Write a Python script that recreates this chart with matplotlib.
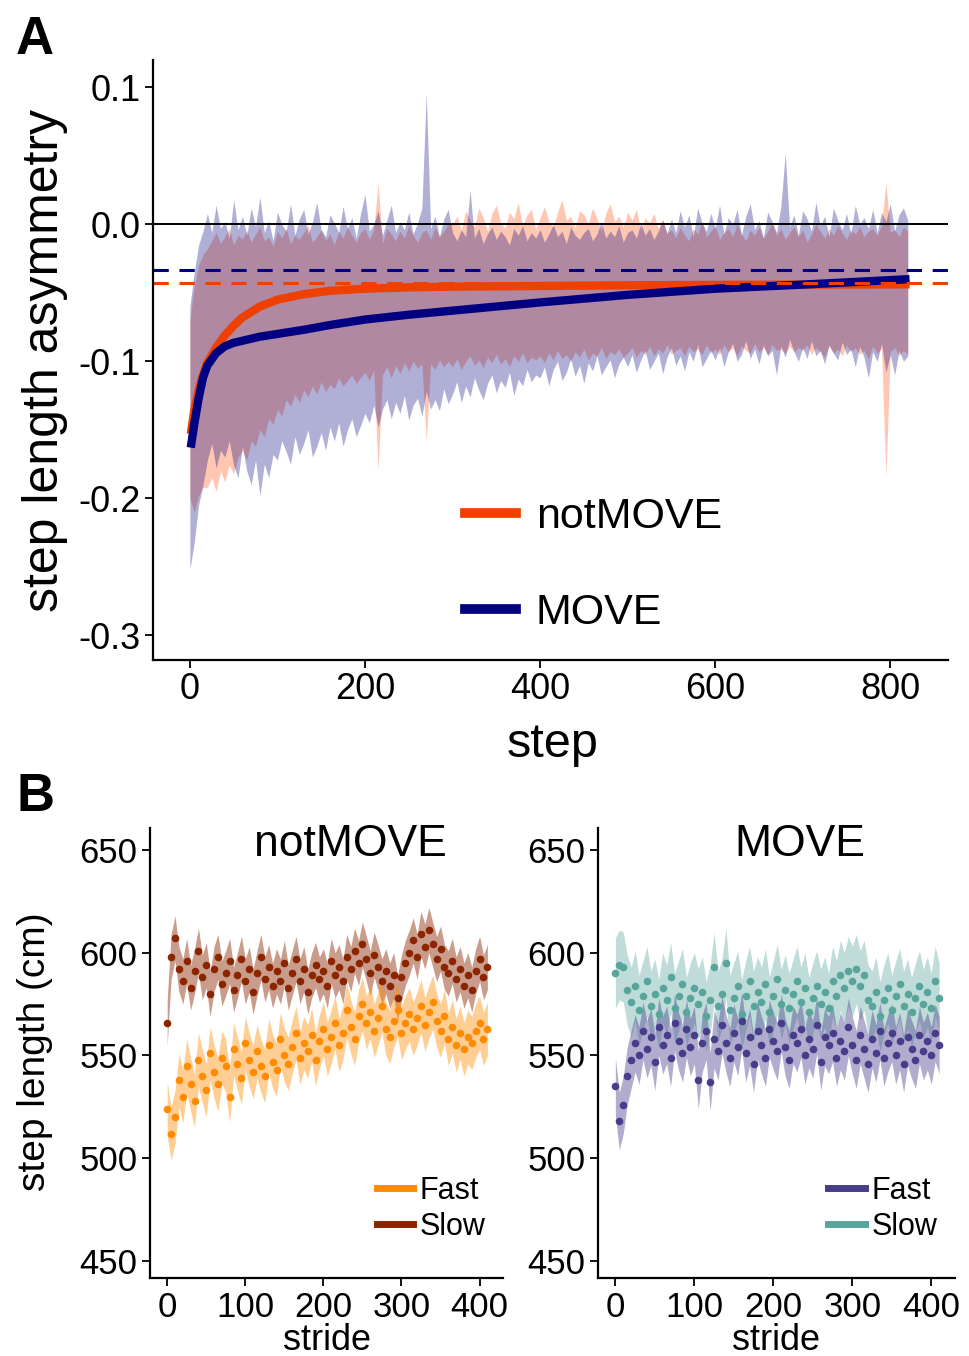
import numpy as np
import matplotlib
matplotlib.use('Agg')
import matplotlib.pyplot as plt
from matplotlib.lines import Line2D

plt.rcParams['font.family'] = ['Liberation Sans', 'DejaVu Sans']

# ---------------- Panel A data (step length asymmetry, x1000) ----------------
step_a = np.arange(0, 825, 5)

move_upper = [
    -60, -35, -15, -5,
    8, -6, 14, -3, 2, -10, 18, -4, 6, -8,
    12, -2, 20, -6, 3, -12, 9, 0, -5, 15,
    -8, 4, 11, -7, 2, 16, -4, -9, 7, 1,
    -6, 13, -3, 5, -10, 8, 22, -5, 0, 10,
    -8, 3, 14, -6, 2, -4, 9, -7, 1, 12,
    96, -3, 6, -9, 4, 11,
    -6, -12, -4, -9, 25, -10, -3, -14, -7, -2,
    -11, -5, -9, -15, -3, -8, -1, -12, -6, -10,
    -4, -13, -7, 0, -9, -5, -14, -2, -8, -11,
    -6, -3, -12, -7, 2, -10, -5, -9, -1, -13,
    -6, -4, -10, 1, -8, -3, -11, -5, 3, -7,
    4, -6, 10, -2, 7, -9, 12, 1, -5, 8,
    -3, 14, -7, 5, 0, 11, -8, 6, 15, -4,
    3, -10, 9, 2, -6, 13, 52, -2, 7, -8,
    10, 4, -5, 16, -1, 6, -9, 12, 3, -4,
    8, -7, 14, 0, 5, -3, 11, -6, 9, 2,
    15, -5, 7, 12, 3]

move_lower = [
    -252, -232, -205, -190,
    -172, -160, -178, -165, -170, -158, -176, -185, -162, -180, -190, -172, -198, -175, -185, -168,
    -172, -158, -166, -175, -155, -168, -160, -150, -170, -162, -152, -165, -148, -158, -145, -162, -150, -142, -155, -147,
    -138, -145, -132, -148, -135, -128, -142, -130, -138, -125, -143, -132, -127, -140, -122, -135, -128, -136, -120, -131,
    -124, -115, -130, -118, -126, -112, -121, -128, -116, -110, -123, -114, -119, -108, -125, -113, -118, -106, -115, -110,
    -112, -104, -118, -106, -100, -114, -108, -98, -111, -103, -116, -101, -107, -96, -110, -104, -99, -112, -102, -97,
    -104, -95, -108, -99, -92, -106, -100, -94, -109, -97, -90, -103, -96, -107, -93, -100, -88, -104, -98, -92,
    -99, -90, -104, -93, -87, -100, -95, -85, -98, -91, -102, -88, -96, -92, -110, -89, -97, -84, -93, -100,
    -90, -98, -85, -96, -92, -102, -88, -94, -99, -86, -95, -91, -104, -89, -97, -112, -93, -100, -87, -108,
    -95, -110, -92, -100, -96]

notmove_upper = [
    -70, -45, -30, -22,
    -18, -12, -6, -14, -9, -3, -15, -8, -11, -4,
    -13, -7, -2, -12, -9, -16, -5, -10, -3, -14,
    -8, -11, -6, -1, -13, -9, -4, -12, -7, -15,
    -5, -10, -2, -8, -13, -6, -3, -11, -4, 30,
    -14, -3, -7, -12, -5, -10, -1, -8, -13, -6,
    -4, -11, -2, -9, -5, 0,
    0, 6, -4, 10, 3, -2, 12, 5, -5, 8,
    14, 1, -3, 9, 4, 16, -1, 7, 11, -4,
    5, 13, 2, -2, 9, 18, 3, 6, -3, 10,
    7, 0, 12, 4, -5, 8, 15, 2, 6, -2,
    9, 3, 11, -4, 5, 1, 8, -3, 4, -6,
    -4, -10, -2, -8, -12, -3, -7, 2, -9, -5,
    -1, -11, -6, -3, -9, 0, -7, -12, -4, -8,
    -2, -10, -5, 1, -8, -3, -11, -6, -2, -9,
    -4, -13, -7, 0, -5, -10, -3, -8, -1, -6,
    -11, -4, -7, -2, -9, -5, -3, -8, -1, 31,
    -6, -4, -9, -2, -5]

notmove_lower = [
    -200, -210, -198, -192,
    -192, -185, -195, -180, -188, -176, -182, -170, -165, -172, -158, -162, -150, -155, -142, -146,
    -135, -140, -128, -133, -124, -130, -121, -126, -118, -124, -115, -122, -117, -120, -112, -118, -114, -110, -116, -112,
    -108, -114, -106, -180, -110, -104, -112, -103, -109, -101, -107, -100, -105, -102, -158, -102, -106, -99, -104, -100,
    -104, -98, -106, -100, -96, -103, -99, -105, -97, -101, -95, -102, -98, -104, -96, -100, -94, -101, -97, -99,
    -96, -101, -94, -99, -92, -98, -95, -100, -93, -97, -91, -99, -94, -96, -90, -98, -93, -95, -91, -97,
    -94, -90, -97, -92, -95, -89, -96, -91, -94, -88, -95, -92, -90, -96, -89, -93, -91, -95, -88, -94,
    -91, -95, -88, -93, -90, -96, -89, -92, -94, -87, -93, -90, -95, -88, -92, -91, -94, -89, -93, -90,
    -92, -88, -95, -90, -93, -97, -89, -94, -91, -96, -88, -93, -90, -95, -92, -98, -89, -94, -91, -185,
    -93, -90, -96, -92, -95]

fit_step = [1, 5, 10, 15, 20, 30, 40, 50, 60, 80, 100, 130, 160, 200, 250, 300, 400, 500, 600, 700, 822]
notmove_fit = [-153, -136, -121, -110, -101, -90, -81, -74, -68, -60, -55, -51, -48.5, -47, -46, -45.5,
               -45, -44.5, -44.2, -44, -43.8]
move_fit = [-163, -146, -127, -112, -103, -94, -89, -86.5, -85, -82, -80, -77, -73.5, -69.5, -66, -63,
            -57, -51.5, -47, -44, -40]

move_plateau = -0.0335
notmove_plateau = -0.043

a_xticks = [0, 200, 400, 600, 800]
a_yticks = [-0.3, -0.2, -0.1, 0.0, 0.1]
a_yticklabels = ['-0.3', '-0.2', '-0.1', '0.0', '0.1']

# ---------------- Panel B data (step length, cm) ----------------
stride_b = np.arange(0, 415, 5)

nm_fast = [524, 512, 520, 538, 530, 545, 536, 528, 548, 540,
           533, 551, 542, 536, 549, 545, 530, 553, 546, 539,
           556, 548, 542, 552, 545, 540, 555, 547, 543, 558,
           550, 546, 554, 561, 549, 556, 552, 560, 548, 557,
           563, 553, 559, 566, 555, 561, 572, 564, 558, 569,
           575, 566, 571, 562, 568, 574, 563, 559, 567, 572,
           561, 566, 570, 563, 568, 574, 565, 571, 576, 567,
           562, 569, 558, 564, 555, 561, 553, 559, 556, 562,
           566, 558, 563]
nm_slow = [566, 598, 607, 592, 586, 596, 583, 591, 601, 588,
           594, 580, 592, 598, 585, 590, 596, 582, 589, 597,
           586, 592, 581, 590, 598, 587, 593, 584, 591, 586,
           595, 583, 590, 597, 586, 592, 581, 589, 594, 587,
           591, 584, 596, 589, 593, 586, 598, 592, 601, 595,
           604, 597, 590, 599, 593, 586, 591, 584, 589, 578,
           588, 595, 600, 606, 598, 609, 603, 611, 604, 597,
           602, 593, 590, 596, 587, 592, 584, 589, 582, 591,
           597, 588, 593]
mv_fast = [535, 518, 526, 540, 548, 556, 550, 562, 553, 559,
           547, 564, 555, 560, 549, 566, 557, 551, 563, 554,
           560, 538, 556, 562, 537, 558, 552, 565, 556, 549,
           561, 554, 567, 551, 559, 546, 562, 555, 549, 563,
           557, 552, 566, 554, 548, 560, 556, 563, 550, 558,
           553, 565, 547, 559, 555, 561, 549, 557, 552, 564,
           555, 548, 560, 553, 546, 558, 551, 562, 549, 556,
           561, 550, 557, 546, 559, 553, 548, 560, 552, 557,
           550, 561, 555]
mv_slow = [590, 594, 593, 582, 576, 584, 572, 579, 586, 574,
           580, 570, 583, 577, 588, 573, 579, 585, 571, 578,
           583, 575, 581, 569, 577, 593, 574, 580, 595, 572,
           578, 584, 570, 579, 586, 574, 581, 576, 585, 571,
           579, 587, 575, 582, 573, 580, 586, 576, 583, 571,
           578, 584, 575, 581, 573, 586, 579, 589, 583, 591,
           586, 592, 584, 589, 577, 574, 581, 569, 577, 583,
           572, 579, 585, 574, 580, 571, 578, 584, 575, 581,
           573, 586, 578]

nm_fast_se = 13
nm_slow_se = 11
mv_fast_se = 14
mv_slow_se = 17

b_xticks = [0, 100, 200, 300, 400]
b_yticks = [450, 500, 550, 600, 650]

# ---------------- colours ----------------
c_notmove = '#EE4000'
c_move = '#000080'
c_nm_fast = '#FF8C00'
c_nm_slow = '#8B2500'
c_mv_fast = '#483D8B'
c_mv_slow = '#58A59C'

fig = plt.figure(figsize=(9.69, 13.56), dpi=100)


def style_axes(ax, size):
    for s in ['top', 'right']:
        ax.spines[s].set_visible(False)
    for s in ['left', 'bottom']:
        ax.spines[s].set_linewidth(1.6)
    ax.tick_params(direction='out', length=6, width=1.3, labelsize=size, pad=3, colors='black')


# ---------------- Panel A ----------------
axA = fig.add_axes([0.158, 0.5133, 0.8204, 0.4425])
k = 1000.0
axA.fill_between(step_a, np.array(notmove_lower) / k, np.array(notmove_upper) / k,
                 color='#FF4500', alpha=0.30, lw=0)
axA.fill_between(step_a, np.array(move_lower) / k, np.array(move_upper) / k,
                 color=c_move, alpha=0.31, lw=0)
axA.axhline(0, color='black', lw=1.4)
axA.plot(fit_step, np.array(notmove_fit) / k, color=c_notmove, lw=6, solid_capstyle='butt')
axA.plot(fit_step, np.array(move_fit) / k, color=c_move, lw=6, solid_capstyle='butt')
axA.axhline(move_plateau, color=c_move, lw=2.2, dashes=(5, 3.5))
axA.axhline(notmove_plateau, color=c_notmove, lw=2.2, dashes=(5, 3.5))
axA.set_xlim(-42, 866)
axA.set_ylim(-0.318, 0.12)
axA.set_xticks(a_xticks)
axA.set_yticks(a_yticks)
axA.set_yticklabels(a_yticklabels)
style_axes(axA, 26)

handlesA = [Line2D([], [], color=c_notmove, lw=7), Line2D([], [], color=c_move, lw=7)]
axA.legend(handlesA, ['notMOVE', 'MOVE'], loc='upper left', bbox_to_anchor=(0.392, 0.272),
           frameon=False, fontsize=31, handlelength=1.2, handletextpad=0.45,
           labelspacing=1.3, borderpad=0, borderaxespad=0)

fig.text(45 / 969, 1 - 360 / 1356, 'step length asymmetry', rotation=90, ha='center', va='center',
         fontsize=36)
fig.text(553 / 969, 1 - 745 / 1356, 'step', ha='center', va='center', fontsize=35)
fig.text(16 / 969, 1 - 40 / 1356, 'A', ha='left', va='center', fontsize=38, fontweight='bold')
fig.text(16 / 969, 1 - 797 / 1356, 'B', ha='left', va='center', fontsize=38, fontweight='bold')

# ---------------- Panel B ----------------
def draw_b(ax, fast, slow, fse, sse, cf, cs, af, as_):
    f = np.array(fast, dtype=float)
    s = np.array(slow, dtype=float)
    ax.fill_between(stride_b, s - sse, s + sse, color=cs, alpha=as_, lw=0)
    ax.fill_between(stride_b, f - fse, f + fse, color=cf, alpha=af, lw=0)
    ax.scatter(stride_b, s, s=30, color=cs, lw=0, zorder=3)
    ax.scatter(stride_b, f, s=30, color=cf, lw=0, zorder=3)
    ax.set_xlim(-22, 430)
    ax.set_ylim(441.7, 660.7)
    ax.set_xticks(b_xticks)
    ax.set_yticks(b_yticks)
    style_axes(ax, 25)
    hs = [Line2D([], [], color=cf, lw=5), Line2D([], [], color=cs, lw=5)]
    ax.legend(hs, ['Fast', 'Slow'], loc='lower right', bbox_to_anchor=(0.95, 0.08), frameon=False,
              fontsize=22, handlelength=1.2, handletextpad=0.2, labelspacing=0.2, borderpad=0,
              borderaxespad=0)


axB1 = fig.add_axes([0.1548, 0.0575, 0.3643, 0.3319])
draw_b(axB1, nm_fast, nm_slow, nm_fast_se, nm_slow_se, c_nm_fast, c_nm_slow, 0.42, 0.45)
axB2 = fig.add_axes([0.6171, 0.0575, 0.3684, 0.3319])
draw_b(axB2, mv_fast, mv_slow, mv_fast_se, mv_slow_se, c_mv_fast, c_mv_slow, 0.42, 0.38)

fig.text(350 / 969, 1 - 845 / 1356, 'notMOVE', ha='center', va='center', fontsize=32)
fig.text(800 / 969, 1 - 845 / 1356, 'MOVE', ha='center', va='center', fontsize=32)
fig.text(35 / 969, 1 - 1052 / 1356, 'step length (cm)', rotation=90, ha='center', va='center',
         fontsize=28)
fig.text(327 / 969, 1 - 1340 / 1356, 'stride', ha='center', va='center', fontsize=26)
fig.text(776 / 969, 1 - 1340 / 1356, 'stride', ha='center', va='center', fontsize=26)

fig.savefig('out.png', dpi=100)
